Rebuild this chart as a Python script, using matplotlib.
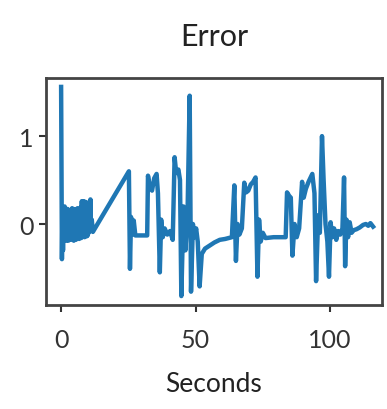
import matplotlib
matplotlib.use("Agg")
import matplotlib.pyplot as plt

# Error signal
time = [0, 0.3, 0.5, 0.7, 0.9, 1.1, 1.3, 1.5, 1.7, 1.9, 2.1, 2.3, 2.5, 2.7,
        2.9, 3.1, 3.3, 3.5, 3.7, 3.9, 4.1, 4.3, 4.5, 4.7, 4.9, 5.1, 5.3, 5.5,
        5.7, 5.9, 6.1, 6.3, 6.5, 6.7, 6.9, 7.1, 7.3, 7.5, 7.7, 7.9, 8.1, 8.3,
        8.5, 8.7, 8.9, 9.1, 9.3, 9.5, 9.7, 9.9, 10.1, 10.3, 10.5, 10.7, 10.9,
        11.1, 11.4, 11.8, 25.2, 25.6, 26.0, 26.5, 27.0, 27.6, 28.2, 32.0, 32.3,
        33.0, 33.8, 34.6, 35.5, 36.0, 36.7, 37.2, 37.8, 38.5, 39.5, 40.5, 41.5,
        42.2, 42.8, 43.6, 44.2, 44.7, 45.5, 46.2, 47.0, 47.8, 48.3, 49.0, 49.6,
        50.2, 50.8, 51.5, 52.3, 53.5, 55.0, 57.0, 59.0, 61.0, 63.5, 64.4, 65.0,
        65.6, 66.3, 67.2, 68.1, 68.8, 69.6, 70.5, 71.4, 72.3, 73.0, 73.6, 74.2,
        75.0, 76.0, 79.0, 83.5, 84.0, 84.8, 85.4, 86.0, 86.8, 87.6, 88.5, 89.6,
        90.2, 91.0, 92.0, 93.4, 94.2, 94.8, 95.6, 96.2, 97.0, 97.6, 98.3, 99.0,
        99.6, 100.2, 100.8, 101.5, 102.3, 103.0, 103.8, 104.6, 105.2, 105.6,
        106.1, 106.7, 107.3, 108.0, 108.8, 109.8, 111.0, 112.3, 113.3, 114.2,
        115.0, 116.0]
error = [1.56, -0.40, 0.15, -0.30, 0.12, -0.18, 0.20, -0.15, 0.18, -0.19,
         0.14, -0.12, 0.17, -0.19, 0.15, -0.16, 0.10, -0.18, 0.16, -0.14,
         0.18, -0.17, 0.12, -0.19, 0.17, -0.13, 0.15, -0.18, 0.14, -0.16,
         0.18, -0.12, 0.16, -0.17, 0.13, -0.15, 0.19, -0.16, 0.26, -0.14,
         0.24, -0.13, 0.26, -0.15, 0.22, -0.12, 0.25, -0.14, 0.20, -0.13,
         0.12, -0.10, 0.18, -0.08, 0.28, -0.05, 0.05, -0.09, 0.60, -0.51,
         0.08, -0.12, 0.04, -0.13, -0.13, -0.13, 0.55, 0.42, 0.38, 0.52, 0.57,
         0.35, -0.55, 0.05, -0.15, -0.05, -0.12, -0.08, -0.18, 0.76, 0.58, 0.62,
         0.50, -0.82, 0.20, -0.30, 0.10, 1.46, -0.77, 0.00, -0.15, -0.05, -0.20,
         -0.71, -0.34, -0.28, -0.25, -0.21, -0.18, -0.17, -0.15, 0.44, -0.42,
         0.00, -0.12, -0.05, 0.47, 0.36, 0.38, 0.45, 0.48, 0.53, -0.60, 0.05,
         -0.20, -0.10, -0.16, -0.15, -0.15, 0.36, 0.32, 0.30, -0.36, 0.00, -0.15,
         -0.05, 0.48, 0.30, 0.40, 0.48, 0.57, 0.35, -0.65, 0.10, -0.10, 1.00,
         0.50, 0.00, -0.20, -0.60, 0.02, -0.15, -0.05, -0.18, -0.08, -0.12,
         -0.05, 0.53, -0.48, 0.05, -0.15, 0.02, -0.10, -0.07, -0.06, -0.04,
         -0.01, 0.00, -0.02, 0.01, -0.03]

xticks = [0, 50, 100]
yticks = [0, 1]

plt.rcParams['font.family'] = ['Lato', 'DejaVu Sans']

fig = plt.figure(figsize=(3.87, 4.10), dpi=100)
ax = fig.add_axes([0.119, 0.254, 0.868, 0.553])

ax.plot(time, error, color='#1f77b4', lw=3.2)

ax.set_xlim(-5.6, 119.3)
ax.set_ylim(-0.92, 1.66)
ax.set_xticks(xticks)
ax.set_yticks(yticks)
ax.tick_params(labelsize=18, length=5, width=1.5, color='#333333',
               labelcolor='#333333')
ax.tick_params(axis='x', pad=12)
ax.tick_params(axis='y', pad=4)

for sp in ax.spines.values():
    sp.set_color('#444444')
    sp.set_linewidth(2)

ax.set_title("Error", fontsize=22, color='#222222', pad=24)
ax.set_xlabel("Seconds", fontsize=19, color='#222222', labelpad=14)

plt.savefig('out.png', dpi=100)
